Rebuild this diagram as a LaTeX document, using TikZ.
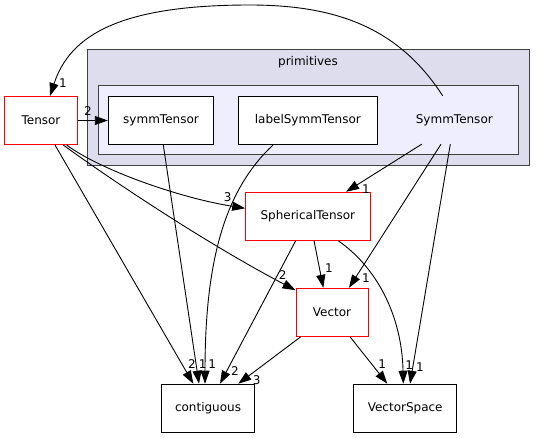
\documentclass[tikz,border=0pt]{standalone}
\usepackage{fontspec}
\setmainfont{DejaVu Sans}
\usepackage{xcolor}
\definecolor{CarpetaGris}{RGB}{221,221,238}
\definecolor{CarpetaAzul}{RGB}{238,238,255}
\definecolor{BordeGris}{RGB}{64,64,64}
\definecolor{BordeRojo}{RGB}{255,0,0}
\usepackage{tikz}
\usetikzlibrary{arrows.meta}

\begin{document}
\begin{tikzpicture}[x=1pt, y=-1pt,
	every node/.style={font=\fontsize{12}{14}\selectfont},
	caja/.style={draw=black, fill=white, line width=1pt, minimum height=48pt, inner sep=2pt},
	cajaroja/.style={caja, draw=BordeRojo},
	dep/.style={-{Triangle[length=13pt, width=9pt]}, line width=0.9pt, black},
	num/.style={inner sep=0pt}]
			\useasboundingbox (0,0) rectangle (545,438);
			% Carpetas
			\draw[BordeGris, fill=CarpetaGris, line width=1pt] (87.7,50) rectangle (529,165.7);
			\node (primitives) at (308,62) {primitives};
			\draw[BordeGris, fill=CarpetaAzul, line width=1pt] (98.7,85.7) rectangle (518.7,155);
			% Directorios
			\node[cajaroja, minimum width=72.6pt] (Tensor) at (41,120.5) {Tensor};
			\node[caja, minimum width=105.4pt] (symmTensor) at (161,120.5) {symmTensor};
			\node[caja, minimum width=139pt] (labelSymmTensor) at (307.8,120.5) {labelSymmTensor};
			\node[minimum width=84pt, minimum height=48pt, inner sep=0pt] (SymmTensor) at (454.3,120) {SymmTensor};
			\node[cajaroja, minimum width=124.3pt] (SphericalTensor) at (307.85,216.3) {SphericalTensor};
			\node[cajaroja, minimum width=72pt] (Vector) at (332,312.3) {Vector};
			\node[caja, minimum width=93.4pt] (contiguous) at (208,408.2) {contiguous};
			\node[caja, minimum width=103pt] (VectorSpace) at (405.2,408.2) {VectorSpace};
			% Dependencias
			\draw[dep] ([xshift=-11.6pt]SymmTensor.north) .. controls (400,30) and (340,5) .. (250,5)
				.. controls (120,5) and (70,35) .. ([xshift=9pt]Tensor.north);
			\draw[dep] (Tensor.east) -- (symmTensor.west);
			\draw[dep] ([xshift=25.7pt]Tensor.south) .. controls (100,170) and (180,198) .. ([yshift=8pt]SphericalTensor.west);
			\draw[dep] ([xshift=22.3pt]Tensor.south) .. controls (100,172) and (200,240) .. ([yshift=-2.4pt]Vector.north west);
			\draw[dep] ([xshift=14pt]Tensor.south) -- ([xshift=-14.7pt]contiguous.north);
			\draw[dep] ([xshift=2.3pt]symmTensor.south) -- ([xshift=-9pt]contiguous.north);
			\draw[dep] ([xshift=-34.8pt]labelSymmTensor.south) .. controls (225,190) and (205,260) .. ([xshift=-3pt]contiguous.north);
			\draw[dep] ([xshift=-32.6pt]SymmTensor.south) -- ([xshift=38.2pt]SphericalTensor.north);
			\draw[dep] ([xshift=-13.3pt]SymmTensor.south) -- ([xshift=17pt]Vector.north);
			\draw[dep] ([xshift=-4pt]SymmTensor.south) -- ([xshift=4.8pt]VectorSpace.north);
			\draw[dep] ([xshift=-12.2pt]SphericalTensor.south) -- ([xshift=12pt]contiguous.north);
			\draw[dep] ([xshift=6.2pt]SphericalTensor.south) -- ([xshift=-8.7pt]Vector.north);
			\draw[dep] ([xshift=30.5pt]SphericalTensor.south) .. controls (380,270) and (402,320) .. ([xshift=-1.9pt]VectorSpace.north);
			\draw[dep] ([xshift=-31.3pt]Vector.south) -- ([xshift=30.3pt]contiguous.north);
			\draw[dep] ([xshift=18pt]Vector.south) -- ([xshift=-17.9pt]VectorSpace.north);
			% Etiquetas
			\node[num] (nTensor) at (63,83) {1};
			\node[num] (nSymm) at (88,111) {2};
			\node[num] (nSpherical) at (227.7,196.7) {3};
			\node[num] (nVector) at (282.7,275.3) {2};
			\node[num] (nContA) at (192,363.7) {2};
			\node[num] (nContB) at (202.7,363.7) {1};
			\node[num] (nContC) at (212.3,363.7) {1};
			\node[num] (nContD) at (235,371.3) {2};
			\node[num] (nContE) at (256.7,379.7) {3};
			\node[num] (nSphTop) at (366,189) {1};
			\node[num] (nVecA) at (329,268) {1};
			\node[num] (nVecB) at (366,278) {1};
			\node[num] (nSpaceA) at (382.3,363.7) {1};
			\node[num] (nSpaceB) at (409.3,364.7) {1};
			\node[num] (nSpaceC) at (420,367) {1};
\end{tikzpicture}
\end{document}
